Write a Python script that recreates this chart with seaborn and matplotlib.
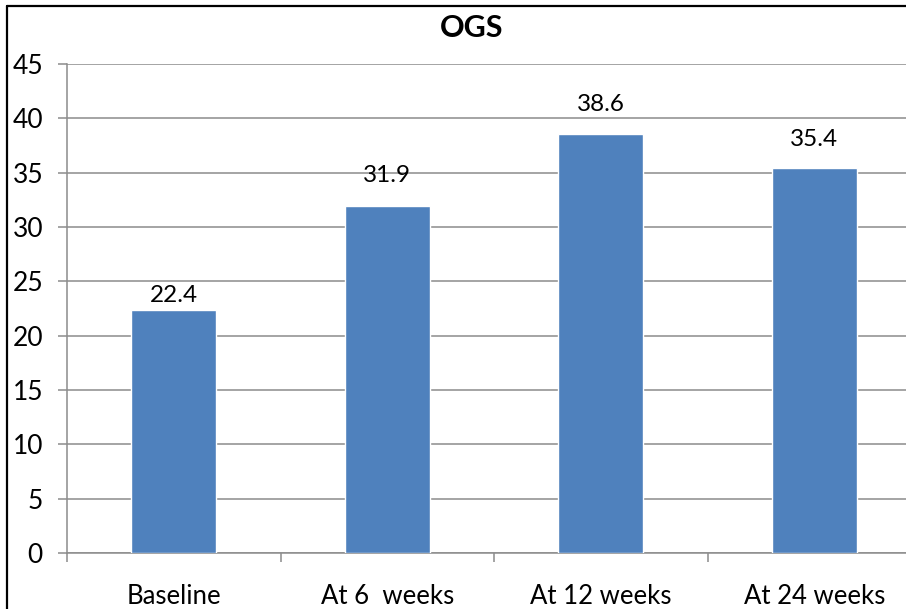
import matplotlib
matplotlib.use("Agg")
import matplotlib.pyplot as plt
from matplotlib.lines import Line2D
from matplotlib.ticker import FixedLocator
import seaborn as sns
import pandas as pd

# Data
categories = ["Baseline", "At 6  weeks", "At 12 weeks", "At 24 weeks"]
ogs_values = [22.4, 31.9, 38.6, 35.4]
y_ticks = [0, 5, 10, 15, 20, 25, 30, 35, 40, 45]

# Gap between each bar top and its value label, in pixels
label_gaps_px = [4, 20, 19, 18]

sns.set_style("white")
plt.rcParams["font.family"] = ["Lato", "DejaVu Sans"]

df = pd.DataFrame({"period": categories, "ogs": ogs_values})

W, H = 906, 609
PX = 0.72  # points per pixel at 100 dpi
fig = plt.figure(figsize=(W / 100, H / 100), dpi=100)
ax = fig.add_axes([67 / W, 56 / H, 854 / W, 489 / H])

bar_color = "#4F81BD"
grid_color = "#8C8C8C"

sns.barplot(data=df, x="period", y="ogs", color=bar_color, width=0.4,
            saturation=1, ax=ax, zorder=3)

ax.set_ylim(0, 45)
ax.set_xlim(-0.5, len(categories) - 0.5)
ax.set_yticks(y_ticks)
ax.set_xlabel("")
ax.set_ylabel("")

# Horizontal gridlines
ax.yaxis.grid(True, color=grid_color, linewidth=1.1, zorder=0)
ax.xaxis.grid(False)

for side in ["top", "right"]:
    ax.spines[side].set_visible(False)
for side in ["left", "bottom"]:
    ax.spines[side].set_color(grid_color)
    ax.spines[side].set_linewidth(1.1)

# Category ticks sit between groups; labels stay centred
ax.xaxis.set_minor_locator(FixedLocator([i - 0.5 for i in range(len(categories) + 1)]))
ax.tick_params(axis="x", which="both", bottom=True)
ax.tick_params(axis="y", which="major", left=True)
ax.tick_params(axis="x", which="major", length=0, pad=22, labelsize=18.5, colors="black")
ax.tick_params(axis="x", which="minor", length=9 * PX, width=1.1, color=grid_color,
               direction="out")
ax.tick_params(axis="y", which="major", length=9 * PX, width=1.1, color=grid_color,
               direction="out", pad=15 * PX, labelsize=19, labelcolor="black")

# Value labels above bars
for i, (v, gap) in enumerate(zip(ogs_values, label_gaps_px)):
    ax.annotate(f"{v}", xy=(i, v), xytext=(0, gap * PX), textcoords="offset points",
                ha="center", va="bottom", fontsize=17.5, color="black", zorder=4)

fig.text(472 / W, 1 - 28 / H, "OGS", ha="center", va="center",
         fontsize=22, fontweight="bold", color="black")

# Outer chart frame (left and top edges)
fig.add_artist(Line2D([7 / W, 7 / W], [0, 1 - 6 / H], color="black", linewidth=1.6))
fig.add_artist(Line2D([7 / W, 1.0], [1 - 6 / H, 1 - 6 / H], color="black", linewidth=1.6))

fig.savefig("out.png", dpi=100)
